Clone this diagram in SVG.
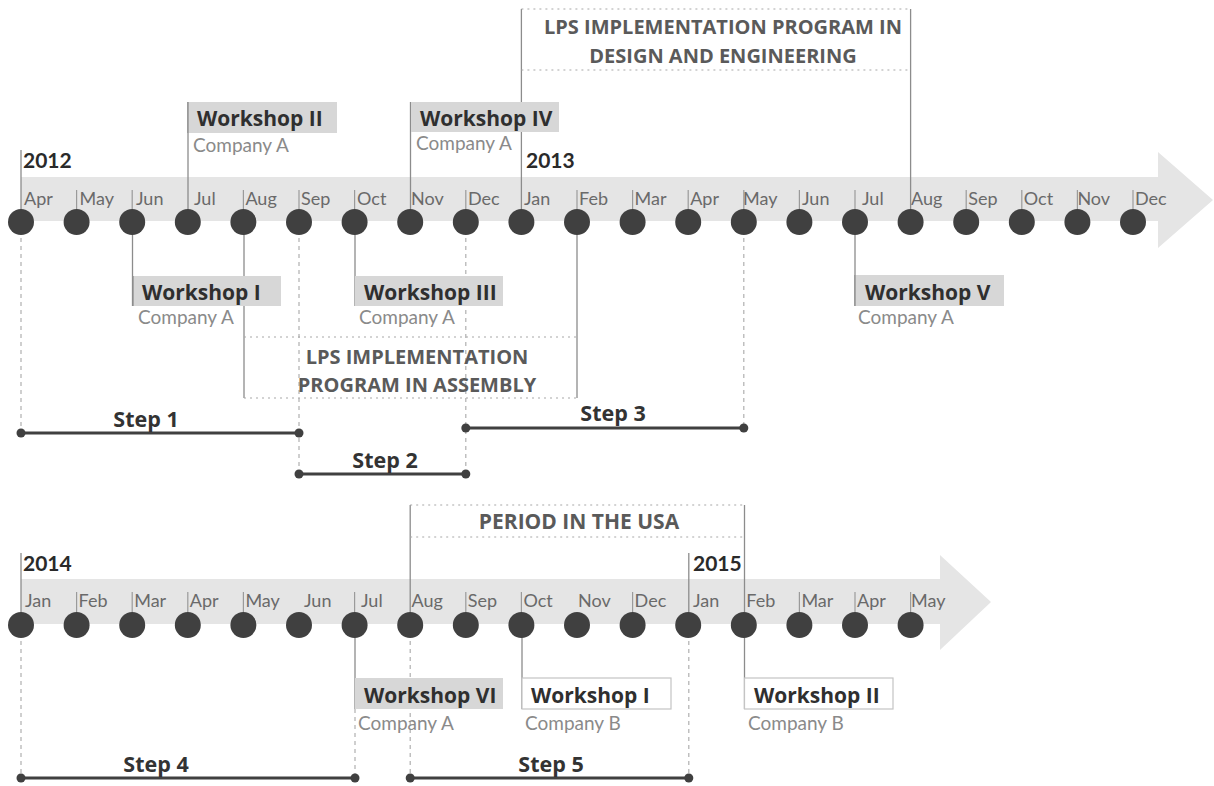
<svg xmlns="http://www.w3.org/2000/svg" width="1214" height="786" viewBox="0 0 1214 786">
  <style>
    .band { fill: #e5e5e5; }
    .dot { fill: #404040; }
    .tick { stroke: #9a9a9a; stroke-width: 1.2; }
    .solid { stroke: #8c8c8c; stroke-width: 1.3; fill: none; }
    .dash { stroke: #b0b0b0; stroke-width: 1.2; stroke-dasharray: 4 4; fill: none; }
    .dotted { stroke: #a8a8a8; stroke-width: 1.2; stroke-dasharray: 2 4; fill: none; }
    .month { font-family: Lato, "Open Sans", sans-serif; font-size: 18px; fill: #6a6a6a; }
    .year { font-family: Lato, "Open Sans", sans-serif; font-size: 21px; font-weight: 700; fill: #2a2a2a; }
    .wbox { fill: #d7d7d7; }
    .wbox-open { fill: #ffffff; stroke: #c4c4c4; stroke-width: 1.2; }
    .wtitle { font-family: "Open Sans", sans-serif; font-size: 21px; font-weight: 700; fill: #2f2f2f; }
    .company { font-family: Lato, "Open Sans", sans-serif; font-size: 19px; fill: #8a8a8a; }
    .phase { font-family: "Open Sans", sans-serif; font-size: 20px; font-weight: 700; fill: #5a5a5a; text-anchor: middle; }
    .step { stroke: #404040; stroke-width: 3; }
    .step-end { fill: #404040; }
    .step-label { font-family: "Open Sans", sans-serif; font-size: 21.5px; font-weight: 700; fill: #333333; text-anchor: middle; }
  </style>

  <!-- timeline 2012-2013 -->
  <g id="timeline-2012-2013">
    <path class="band" d="M21,177 H1158 V152 L1213,200 L1158,248 V221 H21 Z"/>
    <g>
      <line class="tick" x1="76.6" y1="190" x2="76.6" y2="222"/>
      <line class="tick" x1="132.2" y1="190" x2="132.2" y2="222"/>
      <line class="tick" x1="243.4" y1="190" x2="243.4" y2="222"/>
      <line class="tick" x1="299" y1="190" x2="299" y2="222"/>
      <line class="tick" x1="354.6" y1="190" x2="354.6" y2="222"/>
      <line class="tick" x1="465.8" y1="190" x2="465.8" y2="222"/>
      <line class="tick" x1="577" y1="190" x2="577" y2="222"/>
      <line class="tick" x1="632.6" y1="190" x2="632.6" y2="222"/>
      <line class="tick" x1="688.2" y1="190" x2="688.2" y2="222"/>
      <line class="tick" x1="743.8" y1="190" x2="743.8" y2="222"/>
      <line class="tick" x1="799.4" y1="190" x2="799.4" y2="222"/>
      <line class="tick" x1="855" y1="190" x2="855" y2="222"/>
      <line class="tick" x1="966.2" y1="190" x2="966.2" y2="222"/>
      <line class="tick" x1="1021.8" y1="190" x2="1021.8" y2="222"/>
      <line class="tick" x1="1077.4" y1="190" x2="1077.4" y2="222"/>
      <line class="tick" x1="1133" y1="190" x2="1133" y2="222"/>
    </g>
    <g>
      <text class="month" x="24" y="205">Apr</text>
      <text class="month" x="79.6" y="205">May</text>
      <text class="month" x="136" y="205">Jun</text>
      <text class="month" x="194" y="205">Jul</text>
      <text class="month" x="245.4" y="205">Aug</text>
      <text class="month" x="301" y="205">Sep</text>
      <text class="month" x="357" y="205">Oct</text>
      <text class="month" x="411" y="205">Nov</text>
      <text class="month" x="468" y="205">Dec</text>
      <text class="month" x="524" y="205">Jan</text>
      <text class="month" x="579" y="205">Feb</text>
      <text class="month" x="634.6" y="205">Mar</text>
      <text class="month" x="690.2" y="205">Apr</text>
      <text class="month" x="743" y="205">May</text>
      <text class="month" x="802" y="205">Jun</text>
      <text class="month" x="862" y="205">Jul</text>
      <text class="month" x="911" y="205">Aug</text>
      <text class="month" x="968.2" y="205">Sep</text>
      <text class="month" x="1023.8" y="205">Oct</text>
      <text class="month" x="1077.4" y="205">Nov</text>
      <text class="month" x="1135" y="205">Dec</text>
    </g>
    <text class="year" x="23" y="168">2012</text>
    <text class="year" x="526" y="168">2013</text>
  </g>

  <!-- timeline 2014-2015 -->
  <g id="timeline-2014-2015">
    <path class="band" d="M21,579 H940 V555 L991,602 L940,650 V624 H21 Z"/>
    <g>
      <line class="tick" x1="76.6" y1="592" x2="76.6" y2="625"/>
      <line class="tick" x1="132.2" y1="592" x2="132.2" y2="625"/>
      <line class="tick" x1="187.8" y1="592" x2="187.8" y2="625"/>
      <line class="tick" x1="243.4" y1="592" x2="243.4" y2="625"/>
      <line class="tick" x1="354.6" y1="592" x2="354.6" y2="625"/>
      <line class="tick" x1="465.8" y1="592" x2="465.8" y2="625"/>
      <line class="tick" x1="521.4" y1="592" x2="521.4" y2="625"/>
      <line class="tick" x1="632.6" y1="592" x2="632.6" y2="625"/>
      <line class="tick" x1="799.4" y1="592" x2="799.4" y2="625"/>
      <line class="tick" x1="855" y1="592" x2="855" y2="625"/>
      <line class="tick" x1="910.6" y1="592" x2="910.6" y2="625"/>
    </g>
    <g>
      <text class="month" x="25" y="607">Jan</text>
      <text class="month" x="78.6" y="607">Feb</text>
      <text class="month" x="134.2" y="607">Mar</text>
      <text class="month" x="189.8" y="607">Apr</text>
      <text class="month" x="245.4" y="607">May</text>
      <text class="month" x="304" y="607">Jun</text>
      <text class="month" x="361" y="607">Jul</text>
      <text class="month" x="411.5" y="607">Aug</text>
      <text class="month" x="467.8" y="607">Sep</text>
      <text class="month" x="523.4" y="607">Oct</text>
      <text class="month" x="578" y="607">Nov</text>
      <text class="month" x="634.6" y="607">Dec</text>
      <text class="month" x="693" y="607">Jan</text>
      <text class="month" x="746.3" y="607">Feb</text>
      <text class="month" x="801.4" y="607">Mar</text>
      <text class="month" x="857" y="607">Apr</text>
      <text class="month" x="911" y="607">May</text>
    </g>
    <text class="year" x="23" y="571">2014</text>
    <text class="year" x="693" y="571">2015</text>
  </g>

  <!-- connectors -->
  <g id="connectors">
    <!-- upper timeline -->
    <line class="solid" x1="21" y1="150" x2="21" y2="222"/>
    <line class="dash" x1="21" y1="222" x2="21" y2="433"/>
    <line class="solid" x1="132.5" y1="222" x2="132.5" y2="306"/>
    <line class="solid" x1="188" y1="102" x2="188" y2="222"/>
    <line class="solid" x1="244" y1="222" x2="244" y2="398"/>
    <line class="dash" x1="299" y1="222" x2="299" y2="474"/>
    <line class="solid" x1="355" y1="222" x2="355" y2="306"/>
    <line class="solid" x1="410.5" y1="102" x2="410.5" y2="222"/>
    <line class="dash" x1="465.8" y1="222" x2="465.8" y2="474"/>
    <line class="solid" x1="521.4" y1="9" x2="521.4" y2="222"/>
    <line class="solid" x1="577" y1="222" x2="577" y2="398"/>
    <line class="dash" x1="743.8" y1="222" x2="743.8" y2="428"/>
    <line class="solid" x1="855" y1="222" x2="855" y2="306"/>
    <line class="solid" x1="910.6" y1="9" x2="910.6" y2="222"/>
    <!-- lower timeline -->
    <line class="solid" x1="21" y1="553" x2="21" y2="625"/>
    <line class="dash" x1="21" y1="625" x2="21" y2="778"/>
    <line class="solid" x1="355" y1="625" x2="355" y2="709"/>
    <line class="dash" x1="355" y1="709" x2="355" y2="778"/>
    <line class="solid" x1="410.2" y1="505" x2="410.2" y2="625"/>
    <line class="dash" x1="410.2" y1="625" x2="410.2" y2="778"/>
    <line class="solid" x1="522" y1="625" x2="522" y2="709"/>
    <line class="solid" x1="688.8" y1="553" x2="688.8" y2="625"/>
    <line class="dash" x1="688.8" y1="625" x2="688.8" y2="778"/>
    <line class="solid" x1="744.5" y1="505" x2="744.5" y2="709"/>
  </g>

  <!-- month markers -->
  <g id="markers-2012-2013">
    <circle class="dot" cx="21" cy="222" r="13"/>
    <circle class="dot" cx="76.6" cy="222" r="13"/>
    <circle class="dot" cx="132.2" cy="222" r="13"/>
    <circle class="dot" cx="187.8" cy="222" r="13"/>
    <circle class="dot" cx="243.4" cy="222" r="13"/>
    <circle class="dot" cx="299" cy="222" r="13"/>
    <circle class="dot" cx="354.6" cy="222" r="13"/>
    <circle class="dot" cx="410.2" cy="222" r="13"/>
    <circle class="dot" cx="465.8" cy="222" r="13"/>
    <circle class="dot" cx="521.4" cy="222" r="13"/>
    <circle class="dot" cx="577" cy="222" r="13"/>
    <circle class="dot" cx="632.6" cy="222" r="13"/>
    <circle class="dot" cx="688.2" cy="222" r="13"/>
    <circle class="dot" cx="743.8" cy="222" r="13"/>
    <circle class="dot" cx="799.4" cy="222" r="13"/>
    <circle class="dot" cx="855" cy="222" r="13"/>
    <circle class="dot" cx="910.6" cy="222" r="13"/>
    <circle class="dot" cx="966.2" cy="222" r="13"/>
    <circle class="dot" cx="1021.8" cy="222" r="13"/>
    <circle class="dot" cx="1077.4" cy="222" r="13"/>
    <circle class="dot" cx="1133" cy="222" r="13"/>
  </g>
  <g id="markers-2014-2015">
    <circle class="dot" cx="21" cy="625" r="13"/>
    <circle class="dot" cx="76.6" cy="625" r="13"/>
    <circle class="dot" cx="132.2" cy="625" r="13"/>
    <circle class="dot" cx="187.8" cy="625" r="13"/>
    <circle class="dot" cx="243.4" cy="625" r="13"/>
    <circle class="dot" cx="299" cy="625" r="13"/>
    <circle class="dot" cx="354.6" cy="625" r="13"/>
    <circle class="dot" cx="410.2" cy="625" r="13"/>
    <circle class="dot" cx="465.8" cy="625" r="13"/>
    <circle class="dot" cx="521.4" cy="625" r="13"/>
    <circle class="dot" cx="577" cy="625" r="13"/>
    <circle class="dot" cx="632.6" cy="625" r="13"/>
    <circle class="dot" cx="688.2" cy="625" r="13"/>
    <circle class="dot" cx="743.8" cy="625" r="13"/>
    <circle class="dot" cx="799.4" cy="625" r="13"/>
    <circle class="dot" cx="855" cy="625" r="13"/>
    <circle class="dot" cx="910.6" cy="625" r="13"/>
  </g>

  <!-- workshops -->
  <g id="workshop-1-a">
    <rect class="wbox" x="133" y="276" width="148" height="30"/>
    <line class="solid" x1="133" y1="276" x2="133" y2="306"/>
    <text class="wtitle" x="142" y="300">Workshop I</text>
    <text class="company" x="138" y="324">Company A</text>
  </g>
  <g id="workshop-2-a">
    <rect class="wbox" x="188" y="102" width="149" height="31"/>
    <line class="solid" x1="188" y1="102" x2="188" y2="133"/>
    <text class="wtitle" x="197" y="126">Workshop II</text>
    <text class="company" x="193" y="152">Company A</text>
  </g>
  <g id="workshop-3-a">
    <rect class="wbox" x="355" y="276" width="148" height="30"/>
    <text class="wtitle" x="364" y="300">Workshop III</text>
    <text class="company" x="359" y="324">Company A</text>
  </g>
  <g id="workshop-4-a">
    <rect class="wbox" x="411" y="102" width="148" height="30"/>
    <text class="wtitle" x="420" y="126">Workshop IV</text>
    <text class="company" x="416" y="150">Company A</text>
  </g>
  <g id="workshop-5-a">
    <rect class="wbox" x="855" y="275" width="149" height="31"/>
    <line class="solid" x1="855" y1="275" x2="855" y2="306"/>
    <text class="wtitle" x="865" y="300">Workshop V</text>
    <text class="company" x="858" y="324">Company A</text>
  </g>
  <g id="workshop-6-a">
    <rect class="wbox" x="355" y="678" width="148" height="31"/>
    <text class="wtitle" x="364" y="703">Workshop VI</text>
    <text class="company" x="358" y="730">Company A</text>
  </g>
  <g id="workshop-1-b">
    <rect class="wbox-open" x="522" y="678" width="149" height="31"/>
    <text class="wtitle" x="531" y="703">Workshop I</text>
    <text class="company" x="525" y="730">Company B</text>
  </g>
  <g id="workshop-2-b">
    <rect class="wbox-open" x="744.5" y="678" width="148.5" height="31"/>
    <text class="wtitle" x="754" y="703">Workshop II</text>
    <text class="company" x="748" y="730">Company B</text>
  </g>

  <!-- programme periods -->
  <g id="lps-design-engineering">
    <line class="dotted" x1="521.4" y1="9" x2="910.6" y2="9"/>
    <line class="dotted" x1="521.4" y1="70" x2="910.6" y2="70"/>
    <text class="phase" x="723" y="34">LPS IMPLEMENTATION PROGRAM IN</text>
    <text class="phase" x="723" y="63">DESIGN AND ENGINEERING</text>
  </g>
  <g id="lps-assembly">
    <line class="dotted" x1="244" y1="337" x2="577" y2="337"/>
    <line class="dotted" x1="244" y1="398" x2="577" y2="398"/>
    <text class="phase" x="417" y="364">LPS IMPLEMENTATION</text>
    <text class="phase" x="417" y="392">PROGRAM IN ASSEMBLY</text>
  </g>
  <g id="period-usa">
    <line class="dotted" x1="410.2" y1="505" x2="744.5" y2="505"/>
    <line class="dotted" x1="410.2" y1="537" x2="744.5" y2="537"/>
    <text class="phase" x="579" y="529" style="font-size:21px">PERIOD IN THE USA</text>
  </g>

  <!-- steps -->
  <g id="step-1">
    <line class="step" x1="21" y1="433" x2="299" y2="433"/>
    <circle class="step-end" cx="21" cy="433" r="4.5"/>
    <circle class="step-end" cx="299" cy="433" r="4.5"/>
    <text class="step-label" x="146" y="427">Step 1</text>
  </g>
  <g id="step-2">
    <line class="step" x1="299" y1="474" x2="465.8" y2="474"/>
    <circle class="step-end" cx="299" cy="474" r="4.5"/>
    <circle class="step-end" cx="465.8" cy="474" r="4.5"/>
    <text class="step-label" x="385" y="468">Step 2</text>
  </g>
  <g id="step-3">
    <line class="step" x1="465.8" y1="428" x2="743.8" y2="428"/>
    <circle class="step-end" cx="465.8" cy="428" r="4.5"/>
    <circle class="step-end" cx="743.8" cy="428" r="4.5"/>
    <text class="step-label" x="613" y="421">Step 3</text>
  </g>
  <g id="step-4">
    <line class="step" x1="21" y1="778" x2="355" y2="778"/>
    <circle class="step-end" cx="21" cy="778" r="4.5"/>
    <circle class="step-end" cx="355" cy="778" r="4.5"/>
    <text class="step-label" x="156" y="772">Step 4</text>
  </g>
  <g id="step-5">
    <line class="step" x1="410.2" y1="778" x2="688.8" y2="778"/>
    <circle class="step-end" cx="410.2" cy="778" r="4.5"/>
    <circle class="step-end" cx="688.8" cy="778" r="4.5"/>
    <text class="step-label" x="551" y="772">Step 5</text>
  </g>
</svg>
